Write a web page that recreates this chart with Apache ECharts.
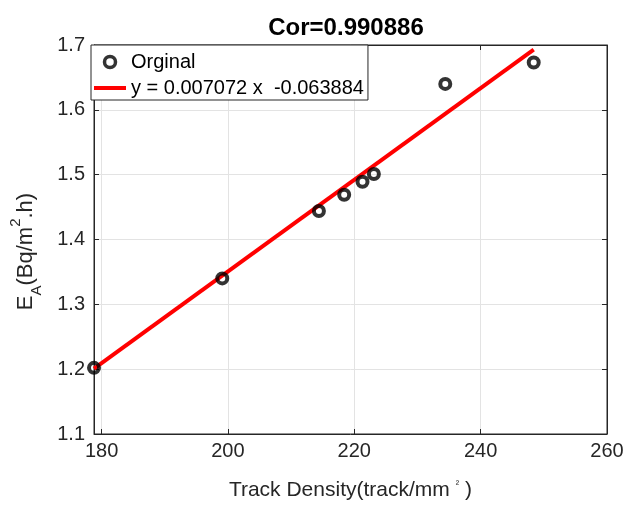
<!DOCTYPE html>
<html>
<head>
<meta charset="utf-8">
<script src="https://cdn.jsdelivr.net/npm/echarts@6/dist/echarts.min.js"></script>
<style>
  html, body { margin: 0; padding: 0; background: #fff; }
  #chart { width: 629px; height: 506px; }
</style>
</head>
<body>
<div id="chart"></div>
<script>
// 資料
const trackDensity = [178.8, 199.1, 214.4, 218.4, 221.3, 223.1, 234.4, 248.4];
const exhalation = [1.202, 1.340, 1.444, 1.469, 1.489, 1.501, 1.640, 1.673];
// 擬合線兩端點
const fitX = [178.8, 248.4];
const fitY = [1.201, 1.693];
const xTicks = [180, 200, 220, 240, 260];
const yTicks = [1.1, 1.2, 1.3, 1.4, 1.5, 1.6, 1.7];

const titleText = 'Cor=0.990886';
const legendScatter = 'Orginal';
const legendFit = 'y = 0.007072 x  -0.063884';

const axisColor = '#262626';
const gridColor = '#e3e3e3';
const font = 'Liberation Sans, Arial, sans-serif';

const chart = echarts.init(document.getElementById('chart'));

const option = {
  backgroundColor: '#fff',
  animation: false,
  textStyle: { fontFamily: font },
  title: {
    text: titleText,
    left: 346,
    textAlign: 'center',
    top: 16,
    padding: 0,
    textStyle: { fontSize: 24, fontWeight: 'bold', color: '#000', fontFamily: font }
  },
  grid: {
    left: 91,
    right: 22,
    top: 45,
    bottom: 69,
    show: true,
    borderColor: axisColor,
    borderWidth: 1
  },
  legend: {
    orient: 'vertical',
    left: 91,
    top: 45,
    itemWidth: 32,
    itemHeight: 11,
    itemGap: 6,
    padding: [7, 4, 2, 3],
    borderColor: axisColor,
    borderWidth: 1,
    borderRadius: 0,
    backgroundColor: '#fff',
    textStyle: { fontSize: 20, lineHeight: 20, color: '#000', fontFamily: font },
    data: [
      { name: legendScatter, itemStyle: { borderWidth: 3.5, borderColor: '#000' } },
      // 只畫一條紅線，不要中間的圓點
      { name: legendFit, icon: 'path://M0,0L32,0L32,4L0,4Z' }
    ]
  },
  xAxis: [
    {
      type: 'value',
      min: 178.8,
      max: 260,
      name: '{t|Track Density(track/mm}{sup|²}{t|)}',
      nameLocation: 'middle',
      nameGap: 45,
      nameTextStyle: {
        rich: {
          t: { fontSize: 21, color: '#262626', fontFamily: font },
          sup: { fontSize: 10, color: '#262626', fontFamily: font, padding: [0, 6, 13, 6] }
        }
      },
      axisLine: { show: true, onZero: false, lineStyle: { color: axisColor } },
      axisTick: { show: true, inside: true, length: 5, customValues: xTicks, lineStyle: { color: axisColor } },
      axisLabel: { customValues: xTicks, fontSize: 20, color: axisColor, margin: 7, fontFamily: font },
      splitLine: { show: true, lineStyle: { color: gridColor, width: 1 } }
    },
    {
      // 上方框線的刻度
      type: 'value',
      position: 'top',
      min: 178.8,
      max: 260,
      axisLine: { show: true, lineStyle: { color: axisColor } },
      axisTick: { show: true, inside: true, length: 5, customValues: xTicks, lineStyle: { color: axisColor } },
      axisLabel: { show: false },
      splitLine: { show: false }
    }
  ],
  yAxis: [
    {
      type: 'value',
      min: 1.1,
      max: 1.7,
      interval: 0.1,
      // 尾端加一點空白讓標籤往下移一些
      name: '{t|E}{sub|A}{t|(Bq/m}{sup|2}{t|.h)}{pad|}',
      nameLocation: 'middle',
      nameGap: 50,
      nameTextStyle: {
        rich: {
          t: { fontSize: 22, color: '#262626', fontFamily: font, lineHeight: 36 },
          sub: { fontSize: 15, color: '#262626', fontFamily: font, verticalAlign: 'bottom', lineHeight: 36 },
          sup: { fontSize: 15, color: '#262626', fontFamily: font, verticalAlign: 'top', lineHeight: 36 },
          pad: { width: 24, lineHeight: 36 }
        }
      },
      axisLine: { show: true, onZero: false, lineStyle: { color: axisColor } },
      axisTick: { show: true, inside: true, length: 5, lineStyle: { color: axisColor } },
      axisLabel: {
        fontSize: 20, color: axisColor, margin: 9, fontFamily: font,
        formatter: v => v.toFixed(1)
      },
      splitLine: { show: true, lineStyle: { color: gridColor, width: 1 } }
    },
    {
      // 右方框線的刻度
      type: 'value',
      position: 'right',
      min: 1.1,
      max: 1.7,
      interval: 0.1,
      axisLine: { show: true, lineStyle: { color: axisColor } },
      axisTick: { show: true, inside: true, length: 5, lineStyle: { color: axisColor } },
      axisLabel: { show: false },
      splitLine: { show: false }
    }
  ],
  series: [
    {
      name: legendFit,
      type: 'line',
      showSymbol: false,
      symbol: 'none',
      z: 3,
      lineStyle: { color: '#f00', width: 4 },
      itemStyle: { color: '#f00' },
      data: fitX.map((x, i) => [x, fitY[i]])
    },
    {
      name: legendScatter,
      type: 'scatter',
      symbol: 'circle',
      symbolSize: 10,
      z: 4,
      itemStyle: { color: 'rgba(255,255,255,0)', borderColor: '#000', borderWidth: 4 },
      data: trackDensity.map((x, i) => [x, exhalation[i]])
    }
  ]
};

chart.setOption(option);
</script>
</body>
</html>
